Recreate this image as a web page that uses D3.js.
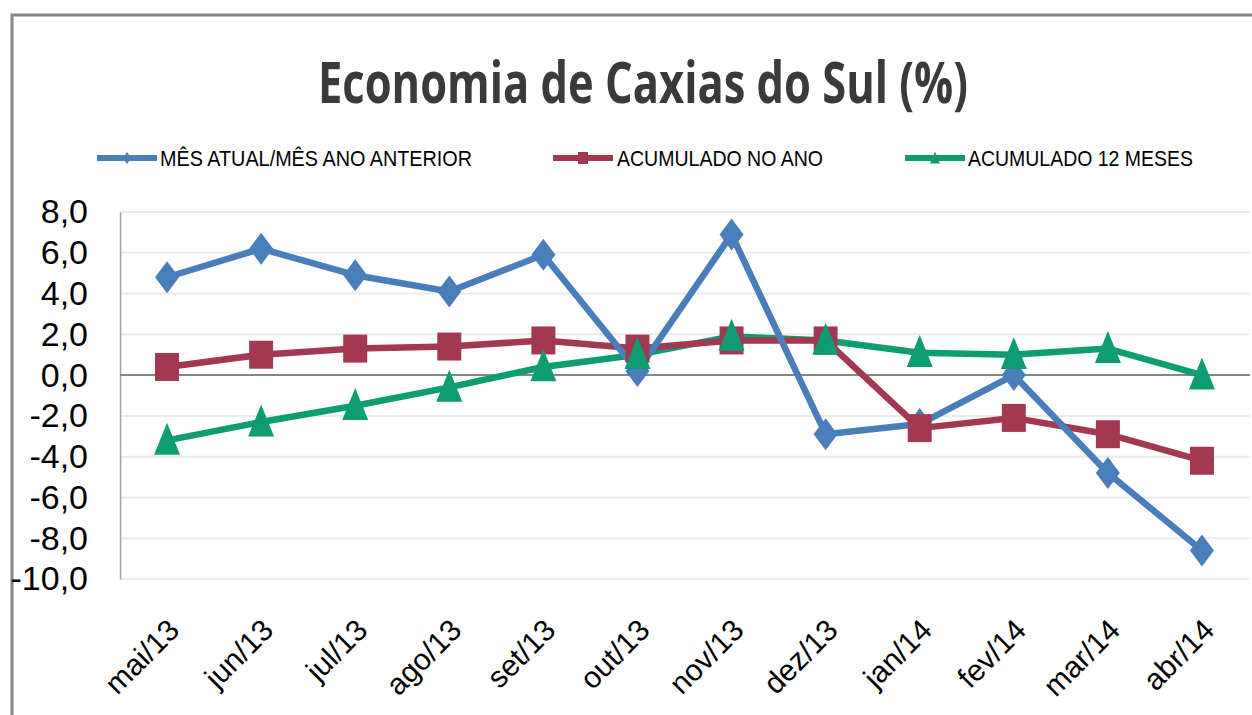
<!DOCTYPE html>
<html>
<head>
<meta charset="utf-8">
<script src="https://cdn.jsdelivr.net/npm/d3@7"></script>
<style>
  html, body { margin: 0; padding: 0; background: #ffffff; }
  svg { display: block; }
</style>
</head>
<body>
<svg id="chart" width="1252" height="715"></svg>
<script>
// ---- data ----
const categories = ["mai/13","jun/13","jul/13","ago/13","set/13","out/13","nov/13","dez/13","jan/14","fev/14","mar/14","abr/14"];
const mesAtual   = [4.8, 6.2, 4.9, 4.1, 5.9, 0.2, 6.9, -2.9, -2.4, 0.0, -4.8, -8.6];
const acumAno    = [0.4, 1.0, 1.3, 1.4, 1.7, 1.3, 1.7, 1.7, -2.6, -2.1, -2.9, -4.2];
const acum12     = [-3.2, -2.3, -1.5, -0.6, 0.4, 1.0, 1.9, 1.7, 1.1, 1.0, 1.3, 0.0];
const yTicks     = [8, 6, 4, 2, 0, -2, -4, -6, -8, -10];
const seriesNames = ["MÊS ATUAL/MÊS ANO ANTERIOR", "ACUMULADO NO ANO", "ACUMULADO 12 MESES"];
const titleText = "Economia de Caxias do Sul (%)";

const colors = ["#4a7ebb", "#a23852", "#0e9c72"];
const symbols = ["diamond", "square", "triangle"];

const svg = d3.select("#chart");
svg.append("rect").attr("width", 1252).attr("height", 715).attr("fill", "#fff");

// border
svg.append("path")
  .attr("d", "M12,715 L12,15 L1252,15")
  .attr("fill", "none").attr("stroke", "#878787").attr("stroke-width", 3);

// scales
const x = d3.scaleBand().domain(categories).range([120, 1249]).padding(0);
const cx = c => x(c) + x.bandwidth() / 2;
const y = d3.scaleLinear().domain([-10, 8]).range([579, 212]);

// gridlines
svg.append("g").selectAll("line").data(yTicks.filter(t => t !== 0)).join("line")
  .attr("x1", 120).attr("x2", 1250)
  .attr("y1", d => y(d)).attr("y2", d => y(d))
  .attr("stroke", "#ebebeb").attr("stroke-width", 2);

// y axis
const yAxis = d3.axisLeft(y).tickValues(yTicks).tickSize(0).tickPadding(32)
  .tickFormat(d => d3.format(".1f")(d).replace(".", ",").replace("−", "-"));
const gy = svg.append("g").attr("transform", "translate(120,0)").call(yAxis);
gy.select(".domain").attr("stroke", "#a0a0a0").attr("stroke-width", 1.5);
gy.selectAll("text")
  .attr("font-family", "'Liberation Sans', Arial, sans-serif")
  .attr("font-size", 34).attr("fill", "#000");

// zero line / category axis
const xAxis = d3.axisBottom(x).tickSize(0).tickFormat(() => "");
const gx = svg.append("g").attr("transform", `translate(0,${y(0)})`).call(xAxis);
gx.select(".domain").attr("d", `M120,0H1250`).attr("stroke", "#868686").attr("stroke-width", 2);

// x labels (at bottom)
svg.append("g").selectAll("text").data(categories).join("text")
  .attr("transform", d => `translate(${cx(d) + 14},${632}) rotate(-45)`)
  .attr("text-anchor", "end")
  .attr("font-family", "'Liberation Sans', Arial, sans-serif")
  .attr("font-size", 30).attr("fill", "#000")
  .text(d => d);

// series
const allSeries = [mesAtual, acumAno, acum12].map((vals, i) => ({
  name: seriesNames[i], color: colors[i], symbol: symbols[i],
  points: categories.map((c, j) => ({ c, v: vals[j] }))
}));

const line = d3.line().x(d => cx(d.c)).y(d => y(d.v));

// lines (drawn in reverse order so blue lines lie on top)
svg.append("g").selectAll("path").data(allSeries.slice().reverse()).join("path")
  .attr("d", s => line(s.points))
  .attr("fill", "none").attr("stroke", s => s.color)
  .attr("stroke-width", 6.5).attr("stroke-linejoin", "round");

function markerPath(type, w, h) {
  const p = d3.path();
  if (type === "diamond") {
    p.moveTo(0, -h / 2); p.lineTo(w / 2, 0); p.lineTo(0, h / 2); p.lineTo(-w / 2, 0); p.closePath();
  } else if (type === "square") {
    p.rect(-w / 2, -h / 2, w, h);
  } else {
    p.moveTo(0, -h * 0.55); p.lineTo(w / 2, h * 0.45); p.lineTo(-w / 2, h * 0.45); p.closePath();
  }
  return p.toString();
}
const markerSize = { diamond: [24, 32], square: [24, 28], triangle: [26, 32] };

allSeries.forEach(s => {
  const [w, h] = markerSize[s.symbol];
  svg.append("g").selectAll("path").data(s.points).join("path")
    .attr("transform", d => `translate(${cx(d.c)},${y(d.v)})`)
    .attr("d", markerPath(s.symbol, w, h))
    .attr("fill", s.color);
});

// title
svg.append("text")
  .attr("x", 643).attr("y", 103)
  .attr("text-anchor", "middle")
  .attr("font-family", "'Open Sans', 'Liberation Sans', sans-serif")
  .attr("font-weight", "bold").attr("font-size", 58)
  .attr("fill", "#3a3a3a")
  .attr("textLength", 650).attr("lengthAdjust", "spacingAndGlyphs")
  .text(titleText);

// legend
const legendItems = [
  { x0: 97, x1: 157, tx: 160, tl: 312 },
  { x0: 553, x1: 613, tx: 617, tl: 206 },
  { x0: 905, x1: 965, tx: 968, tl: 225 }
];
const legendSize = { diamond: [8, 12], square: [10, 12], triangle: [10, 12] };
legendItems.forEach((li, i) => {
  const s = allSeries[i];
  const g = svg.append("g");
  g.append("line").attr("x1", li.x0).attr("x2", li.x1).attr("y1", 158).attr("y2", 158)
    .attr("stroke", s.color).attr("stroke-width", 6);
  const [w, h] = legendSize[s.symbol];
  g.append("path").attr("transform", `translate(${(li.x0 + li.x1) / 2},158)`)
    .attr("d", markerPath(s.symbol, w, h)).attr("fill", s.color);
  g.append("text").attr("x", li.tx).attr("y", 166)
    .attr("font-family", "'Liberation Sans', Arial, sans-serif")
    .attr("font-size", 22).attr("fill", "#000")
    .attr("textLength", li.tl).attr("lengthAdjust", "spacingAndGlyphs")
    .text(s.name);
});
</script>
</body>
</html>
